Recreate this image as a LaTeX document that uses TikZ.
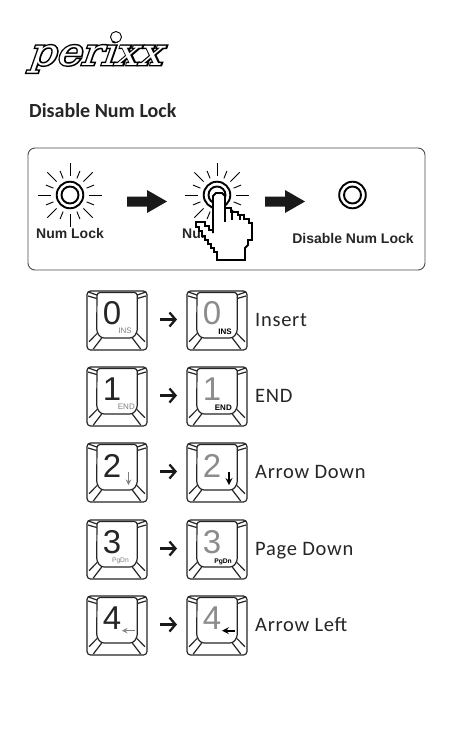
\documentclass[tikz,border=0pt]{standalone}
\usepackage{fontspec}
\usetikzlibrary{calc,arrows.meta}
\setsansfont{Liberation Sans}
\setmainfont{Carlito}
\newfontfamily\logofont[FakeStretch=1.14,FakeSlant=0.35]{DejaVu Serif}
\newfontfamily\logofat[FakeStretch=1.14,FakeSlant=0.35,FakeBold=8]{DejaVu Serif}
\tikzset{
    lamp/.style={draw=black, line width=1.9pt},
    ray/.style={black, line width=0.9pt},
    blockarrow/.style={fill=black!90},
    caption/.style={font=\sffamily\bfseries\fontsize{14}{14}\selectfont, text=black!85, inner sep=0pt},
    keyname/.style={font=\fontsize{20.5}{20.5}\selectfont\addfontfeature{LetterSpace=3.5}, text=black!85, anchor=base west, inner sep=0pt},
    keyline/.style={black!85, line width=1.2pt, line join=round},
    digit/.style={font=\sffamily\fontsize{33}{33}\selectfont, inner sep=0pt},
    keyarrow/.style={-{Straight Barb[length=6pt,width=14pt]}, black!90, line width=2.3pt},
    pics/keycap/.style={code={
        \draw[keyline, rounded corners=3.5pt] (0,0) rectangle (60,59);
        \draw[keyline, rounded corners=3pt] (10,1.5) -- (50.3,1.5) -- (50.3,41) -- (46,47) -- (14,47) -- (9.7,41) -- cycle;
        \draw[keyline] (2,50.7) -- (10.3,42.3) (6.3,58) -- (14.7,47) (58,50.7) -- (49.7,42.3) (53.7,58) -- (45.3,47);
        \draw[keyline] (1.3,1) -- (10,4) (1,5) -- (9.7,7.5) (58.7,1) -- (50.3,4) (59,5) -- (50.3,7.5);
    }}
}
\newcommand{\sunrays}[1]{
    \foreach \a in {0,45,...,315} \draw[ray] ($(#1)+(\a:19)$) -- ($(#1)+(\a:32)$);
    \foreach \a in {22.5,67.5,...,337.5} \draw[ray] ($(#1)+(\a:18)$) -- ($(#1)+(\a:26)$);
}
\begin{document}
\begin{tikzpicture}[x=1pt, y=-1pt, >=stealth]
    \useasboundingbox (0,0) rectangle (454,737);
    \fill[white] (0,0) rectangle (454,737);

    % Logo
    \node[inner sep=0pt, anchor=base west, font=\logofat\fontsize{37}{37}\selectfont] (logoback) at (28,65) {perixx};
    \node[inner sep=0pt, anchor=base west, text=white, font=\logofont\fontsize{37}{37}\selectfont] (logo) at (28,65) {perixx};
    \draw[fill=white, line width=0.9pt] (116,37) circle (5.5);

    % Title
    \node[inner sep=0pt, anchor=west, font=\bfseries\fontsize{20}{20}\selectfont, text=black!85] (title) at (29,110.5) {Disable Num Lock};

    % Frame
    \draw[black!70, line width=0.9pt, rounded corners=7pt] (28,148) rectangle (425,270);

    % Lamps
    \coordinate (sunA) at (70,195);
    \coordinate (sunB) at (217,195);
    \coordinate (lampC) at (352.5,195);
    \sunrays{sunA}
    \sunrays{sunB}
    \foreach \c in {sunA,sunB,lampC} {
        \draw[lamp] (\c) circle (13.3);
        \draw[lamp] (\c) circle (8.5);
    }
    \node[caption] (numA) at (70,233) {Num Lock};
    \node[caption] (numB) at (216,233) {Num Lock};
    \node[caption] (numC) at (353,238.5) {Disable Num Lock};

    % Block arrows
    \foreach \x in {127,265}
        \fill[blockarrow] (\x,196.5) -- (\x+20,196.5) -- (\x+20,190) -- (\x+40,201.5) -- (\x+20,213) -- (\x+20,206.5) -- (\x,206.5) -- cycle;

    % Hand
    \draw[fill=white, line width=1.8pt, line join=miter] (213,233) -- (213,196) -- (216,193) -- (222,193) -- (225,196) -- (225,208) -- (231,208) -- (231,212) -- (238,212) -- (238,215) -- (244,215) -- (244,219) -- (249,219) -- (249,223) -- (252,223) -- (252,240) -- (248,240) -- (248,245) -- (245,248) -- (245,260) -- (217,260) -- (217,252) -- (214,252) -- (214,248) -- (211,248) -- (211,244) -- (208,244) -- (208,240) -- (205,240) -- (205,236) -- (202,236) -- (202,231) -- (199,231) -- (199,227) -- (196,227) -- (196,222) -- (205,222) -- (205,226) -- (209,226) -- (209,230) -- (213,230) -- cycle;
    \draw[line width=1.8pt] (225,208) -- (225,222) (232,212) -- (232,220) (240,215) -- (240,220);

    % Keys
    \foreach \row/\ky/\num/\lab/\lsz/\lx/\name in {0/291/0/INS/8/132/Insert, 1/367/1/END/8/135/END, 2/443/2/{}/8/132/Arrow Down, 3/520/3/PgDn/6.7/129/Page Down, 4/596/4/{}/8/132/Arrow Left} {
        \pic at (87,\ky) {keycap};
        \pic at (187,\ky) {keycap};
        \node[digit, black!85] (off\row) at (112,\ky+22.5) {\num};
        \node[digit, black!45] (on\row) at (212,\ky+22.5) {\num};
        \node[font=\sffamily\fontsize{\lsz}{\lsz}\selectfont, inner sep=0pt, black!50, anchor=base east] (lgoff\row) at (\lx,\ky+42.5) {\lab};
        \node[font=\sffamily\bfseries\fontsize{\lsz}{\lsz}\selectfont, inner sep=0pt, black, anchor=base east] (lgon\row) at (232,\ky+43.5) {\lab};
        \node[keyname] (name\row) at (255,\ky+35) {\name};
        \coordinate (from\row) at (160,\ky+28.5);
        \coordinate (to\row) at (177,\ky+28.5);
        \draw[keyarrow] (from\row) -- (to\row);
    }
    % Arrow legends
    \draw[->, black!50, line width=1.4pt] (128.5,443+29) -- (128.5,443+42);
    \draw[->, black, line width=2pt] (229,443+29) -- (229,443+42);
    \draw[->, black!50, line width=1.4pt] (135,596+34.7) -- (122,596+34.7);
    \draw[->, black, line width=2pt] (235,596+34.7) -- (222,596+34.7);
\end{tikzpicture}
\end{document}
